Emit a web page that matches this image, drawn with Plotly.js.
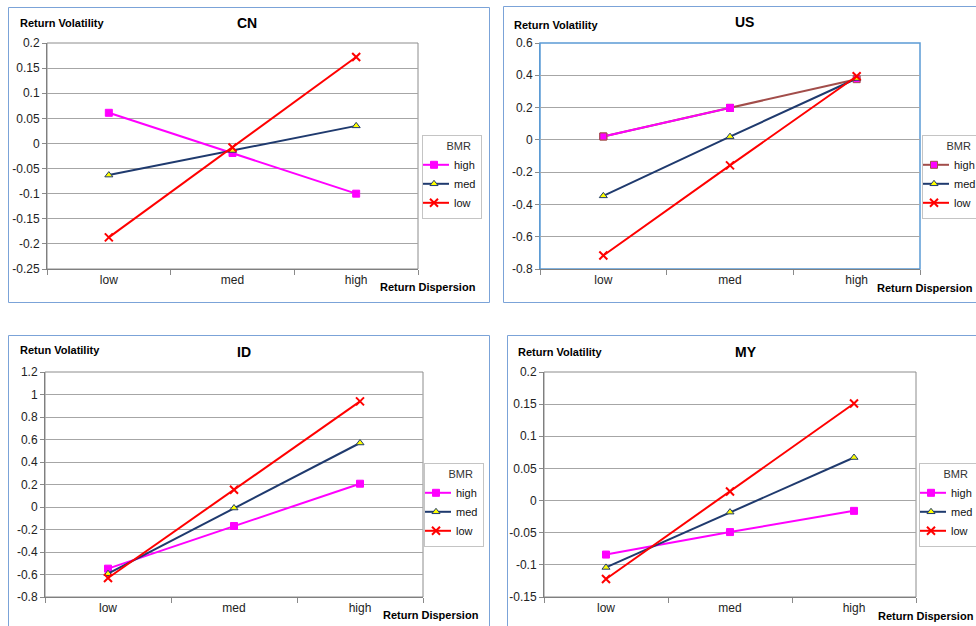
<!DOCTYPE html>
<html>
<head>
<meta charset="utf-8">
<script src="https://cdn.plot.ly/plotly-3.0.1.min.js"></script>
<style>html,body{margin:0;padding:0;background:#fff;}#chart{width:976px;height:626px;}</style>
</head>
<body>
<div id="chart"></div>
<script>
// ---- data ----
const categories = ["low", "med", "high"];
const seriesNames = ["high", "med", "low"];

const cnHigh = [0.061, -0.019, -0.100];
const cnMed  = [-0.063, -0.014, 0.035];
const cnLow  = [-0.187, -0.008, 0.172];

const usHigh = [0.021, 0.198, 0.376];
const usMed  = [-0.347, 0.020, 0.380];
const usLow  = [-0.716, -0.158, 0.394];

const idHigh = [-0.548, -0.169, 0.207];
const idMed  = [-0.593, -0.009, 0.569];
const idLow  = [-0.631, 0.154, 0.939];

const myHigh = [-0.084, -0.049, -0.016];
const myMed  = [-0.104, -0.018, 0.067];
const myLow  = [-0.122, 0.014, 0.151];

const cnTicks = [0.2, 0.15, 0.1, 0.05, 0, -0.05, -0.1, -0.15, -0.2, -0.25];
const cnTickText = ["0.2", "0.15", "0.1", "0.05", "0", "-0.05", "-0.1", "-0.15", "-0.2", "-0.25"];
const usTicks = [0.6, 0.4, 0.2, 0, -0.2, -0.4, -0.6, -0.8];
const usTickText = ["0.6", "0.4", "0.2", "0", "-0.2", "-0.4", "-0.6", "-0.8"];
const idTicks = [1.2, 1, 0.8, 0.6, 0.4, 0.2, 0, -0.2, -0.4, -0.6, -0.8];
const idTickText = ["1.2", "1", "0.8", "0.6", "0.4", "0.2", "0", "-0.2", "-0.4", "-0.6", "-0.8"];
const myTicks = [0.2, 0.15, 0.1, 0.05, 0, -0.05, -0.1, -0.15];
const myTickText = ["0.2", "0.15", "0.1", "0.05", "0", "-0.05", "-0.1", "-0.15"];

const panelTitles = ["CN", "US", "ID", "MY"];
const yTitles = ["Return Volatility", "Return Volatility", "Retun Volatility", "Return Volatility"];
const xTitle = "Return Dispersion";
const legendTitle = "BMR";

// ---- styles ----
const FONT = "Liberation Sans, Arial, sans-serif";
const MAGENTA = "#ff00ff", NAVY = "#1f3a6e", RED = "#ff0000", BROWN = "#a24d4a";
const W = 976, H = 626;
const px = v => v / W;
const py = v => 1 - v / H;

function mk(name, y, xa, ya, leg, show) {
  const base = {x: categories, y: y, type: "scatter", mode: "lines+markers", name: name,
    xaxis: xa, yaxis: ya, legend: leg, showlegend: show !== false, hoverinfo: "skip"};
  if (name === "high") {
    base.line = {color: MAGENTA, width: 2};
    base.marker = {symbol: "square", size: 7, color: MAGENTA, line: {color: MAGENTA, width: 1}};
  } else if (name === "med") {
    base.line = {color: NAVY, width: 2};
    base.marker = {symbol: "triangle-up", size: 7, color: "#ffff00", line: {color: NAVY, width: 1}};
  } else {
    base.line = {color: RED, width: 2};
    base.marker = {symbol: "x-thin", size: 8, color: RED, line: {color: RED, width: 2}};
  }
  return base;
}

const traces = [];
// CN
traces.push(mk("high", cnHigh, "x", "y", "legend"));
traces.push(mk("med", cnMed, "x", "y", "legend"));
traces.push(mk("low", cnLow, "x", "y", "legend"));
// US (high series: brown line from med to high, magenta from low to med)
const usH = mk("high", usHigh, "x2", "y2", "legend2");
usH.line = {color: BROWN, width: 2};
usH.marker = {symbol: "square", size: 7, color: MAGENTA, line: {color: BROWN, width: 1}};
traces.push(usH);
const usH2 = mk("high", usHigh.slice(0, 2), "x2", "y2", "legend2", false);
usH2.x = categories.slice(0, 2);
usH2.marker = {symbol: "square", size: 7, color: MAGENTA, line: {color: [BROWN, MAGENTA], width: 1}};
traces.push(usH2);
traces.push(mk("med", usMed, "x2", "y2", "legend2"));
traces.push(mk("low", usLow, "x2", "y2", "legend2"));
// ID
traces.push(mk("high", idHigh, "x3", "y3", "legend3"));
traces.push(mk("med", idMed, "x3", "y3", "legend3"));
traces.push(mk("low", idLow, "x3", "y3", "legend3"));
// MY
traces.push(mk("high", myHigh, "x4", "y4", "legend4"));
traces.push(mk("med", myMed, "x4", "y4", "legend4"));
traces.push(mk("low", myLow, "x4", "y4", "legend4"));

function xa(d, anchor) {
  return {domain: d, anchor: anchor, type: "category", range: [-0.5, 2.5],
    tickson: "boundaries", ticks: "outside", ticklen: 5, tickcolor: "#8a8a8a",
    showline: true, linecolor: "#7f7f7f", linewidth: 1, showgrid: false, zeroline: false,
    tickfont: {size: 12, color: "#222", family: FONT}, fixedrange: true};
}
function ya(d, anchor, rng, tv, tt, lc) {
  return {domain: d, anchor: anchor, range: rng, tickvals: tv, ticktext: tt,
    ticks: "outside", ticklen: 4, tickcolor: "#8a8a8a",
    showline: true, linecolor: lc || "#7f7f7f", linewidth: 1, mirror: false,
    showgrid: true, gridcolor: "#a6a6a6", gridwidth: 1, zeroline: false,
    tickfont: {size: 12, color: "#222", family: FONT}, fixedrange: true};
}
const NB = "&nbsp;".repeat(7);
function leg(x, y) {
  return {x: px(x), y: py(y), xanchor: "left", yanchor: "top", bgcolor: "#fff",
    bordercolor: "#c4c4c4", borderwidth: 1, font: {size: 11, family: FONT, color: "#111"},
    title: {text: NB + legendTitle, side: "top", font: {size: 11, family: FONT, color: "#333"}},
    itemwidth: 30, indentation: -9, tracegroupgap: 0, traceorder: "normal"};
}

const dCN = {x: [px(47), px(418)], y: [py(269), py(43)]};
const dUS = {x: [px(540), px(920)], y: [py(269), py(43)]};
const dID = {x: [px(45), px(423)], y: [py(597), py(372)]};
const dMY = {x: [px(544), px(916)], y: [py(597), py(372)]};

const annots = [];
function ann(text, x, y, size, anchor) {
  annots.push({text: "<b>" + text + "</b>", x: px(x), y: py(y), xref: "paper", yref: "paper",
    xanchor: anchor || "left", yanchor: "middle", showarrow: false,
    font: {size: size, family: FONT, color: "#000"}});
}
ann(panelTitles[0], 247, 23, 14, "center");
ann(panelTitles[1], 744, 22, 14, "center");
ann(panelTitles[2], 244, 352, 14, "center");
ann(panelTitles[3], 746, 352, 14, "center");
ann(yTitles[0], 18, 23, 11);
ann(yTitles[1], 512, 25, 11);
ann(yTitles[2], 18, 350, 11);
ann(yTitles[3], 516, 352, 11);
ann(xTitle, 378, 287, 11);
ann(xTitle, 875, 288, 11);
ann(xTitle, 381, 615, 11);
ann(xTitle, 876, 616, 11);

const BOX = "#7ba3d8";
const shapes = [
  {type: "rect", xref: "paper", yref: "paper", x0: px(8.5), x1: px(489.5), y0: py(302.5), y1: py(7.5), line: {color: BOX, width: 1}, layer: "below"},
  {type: "rect", xref: "paper", yref: "paper", x0: px(503.5), x1: px(990), y0: py(302.5), y1: py(6.5), line: {color: BOX, width: 1}, layer: "below"},
  {type: "rect", xref: "paper", yref: "paper", x0: px(8.5), x1: px(489.5), y0: py(640), y1: py(335.5), line: {color: BOX, width: 1}, layer: "below"},
  {type: "rect", xref: "paper", yref: "paper", x0: px(507.5), x1: px(990), y0: py(640), y1: py(335.5), line: {color: BOX, width: 1}, layer: "below"},
  {type: "rect", xref: "x domain", yref: "y domain", x0: 0, x1: 1, y0: 0, y1: 1, line: {color: "#8c8c8c", width: 1}, layer: "below"},
  {type: "rect", xref: "x2 domain", yref: "y2 domain", x0: 0, x1: 1, y0: 0, y1: 1, line: {color: "#5b9bd5", width: 1.5}, layer: "below"},
  {type: "rect", xref: "x3 domain", yref: "y3 domain", x0: 0, x1: 1, y0: 0, y1: 1, line: {color: "#8c8c8c", width: 1}, layer: "below"},
  {type: "rect", xref: "x4 domain", yref: "y4 domain", x0: 0, x1: 1, y0: 0, y1: 1, line: {color: "#8c8c8c", width: 1}, layer: "below"}
];

const layout = {
  width: W, height: H,
  margin: {l: 0, r: 0, t: 0, b: 0, autoexpand: false},
  paper_bgcolor: "#fff", plot_bgcolor: "#fff",
  font: {family: FONT, color: "#111"},
  xaxis: xa(dCN.x, "y"),
  yaxis: ya(dCN.y, "x", [-0.25, 0.2], cnTicks, cnTickText),
  xaxis2: xa(dUS.x, "y2"),
  yaxis2: ya(dUS.y, "x2", [-0.8, 0.6], usTicks, usTickText, "#5b9bd5"),
  xaxis3: xa(dID.x, "y3"),
  yaxis3: ya(dID.y, "x3", [-0.8, 1.2], idTicks, idTickText),
  xaxis4: xa(dMY.x, "y4"),
  yaxis4: ya(dMY.y, "x4", [-0.15, 0.2], myTicks, myTickText),
  legend: leg(422, 135),
  legend2: leg(922, 135),
  legend3: leg(424, 463),
  legend4: leg(919, 463),
  annotations: annots,
  shapes: shapes,
  hovermode: false
};

Plotly.newPlot("chart", traces, layout, {staticPlot: true, displayModeBar: false});
</script>
</body>
</html>
